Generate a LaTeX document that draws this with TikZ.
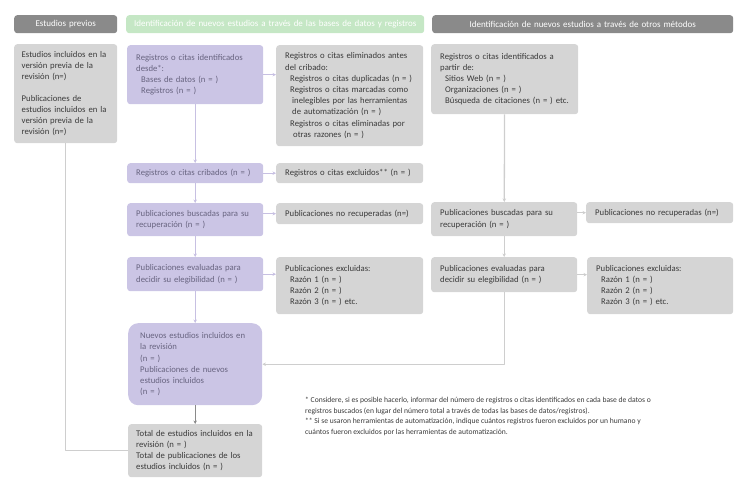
\documentclass[tikz,border=0pt]{standalone}
\usepackage{fontspec}
\setmainfont{Carlito}
\usetikzlibrary{arrows.meta}
\definecolor{hdark}{RGB}{138,138,138}
\definecolor{hgreen}{RGB}{197,231,197}
\definecolor{pfill}{RGB}{203,197,229}
\definecolor{gfill}{RGB}{213,213,213}
\definecolor{ptext}{RGB}{104,100,128}
\definecolor{gtext}{RGB}{58,58,58}
\definecolor{pline}{RGB}{199,192,226}
\definecolor{gline}{RGB}{206,206,206}
\begin{document}
\begin{tikzpicture}[x=1pt,y=-1pt,>={Stealth[length=3.5pt,width=3.5pt]},line join=round,
		font=\fontsize{8.7}{11.2}\selectfont,
		every node/.style={anchor=north west,inner xsep=9pt,inner ysep=0pt,rounded corners=3pt,align=left},
		wh/.style 2 args={text width=#1,minimum height=#2},
		head/.style={fill=#1,text=white,align=center,inner xsep=0pt,font=\fontsize{9}{11}\selectfont},
		pbox/.style={fill=pfill,text=ptext},
		gbox/.style={fill=gfill,text=gtext},
		parrow/.style={->,pline,line width=1.3pt},
		garrow/.style={->,gline,line width=1.3pt}]
	\useasboundingbox (0,0) rectangle (748,486);
	\node[head=hdark,wh={103pt}{18pt}] (hprev) at (14,15) {Estudios previos};
	\node[head=hgreen,wh={298pt}{18pt}] (hdb) at (126,15) {Identificación de nuevos estudios a través de las bases de datos y registros};
	\node[head=hdark,wh={301pt}{18pt}] (hother) at (432,15) {Identificación de nuevos estudios a través de otros métodos};
	\node[gbox,inner xsep=7.5pt,wh={88pt}{99pt}] (prev) at (14,44) {Estudios incluidos en la\\ versión previa de la\\ revisión (n=)\\[10pt] Publicaciones de\\ estudios incluidos en la\\ versión previa de la\\ revisión (n=)};
	\node[pbox,wh={118pt}{59pt}] (ident) at (127,45) {Registros o citas identificados\\ desde*:\\ \hspace*{5pt}Bases de datos (n = )\\ \hspace*{5pt}Registros (n = )};
	\node[gbox,wh={129pt}{101pt}] (removed) at (276,45) {Registros o citas eliminados antes\\ del cribado:\\ \hspace*{5pt}Registros o citas duplicadas (n = )\\ \hspace*{5pt}Registros o citas marcadas como\\ \hspace*{7pt}inelegibles por las herramientas\\ \hspace*{7pt}de automatización (n = )\\ \hspace*{5pt}Registros o citas eliminadas por\\ \hspace*{8pt}otras razones (n = )};
	\node[gbox,wh={129pt}{70pt}] (other) at (431,44) {Registros o citas identificados a\\ partir de:\\ \hspace*{5pt}Sitios Web (n = )\\ \hspace*{5pt}Organizaciones (n = )\\ \hspace*{5pt}Búsqueda de citaciones (n = ) etc.};
	\node[pbox,wh={118pt}{20pt}] (cribados) at (127,163) {Registros o citas cribados (n = )};
	\node[gbox,wh={129pt}{20pt}] (excl) at (276,163) {Registros o citas excluidos** (n = )};
	\node[pbox,wh={118pt}{33pt}] (buscadas) at (127,203) {Publicaciones buscadas para su\\ recuperación (n = )};
	\node[gbox,wh={129pt}{21pt}] (norec) at (276,203) {Publicaciones no recuperadas (n=)};
	\node[gbox,wh={128pt}{34pt}] (obuscadas) at (431,202) {Publicaciones buscadas para su\\ recuperación (n = )};
	\node[gbox,wh={129pt}{21pt}] (onorec) at (586,202) {Publicaciones no recuperadas (n=)};
	\node[pbox,wh={118pt}{34pt}] (evaluadas) at (127,257) {Publicaciones evaluadas para\\ decidir su elegibilidad (n = )};
	\node[gbox,wh={129pt}{57pt}] (exclpub) at (276,257) {Publicaciones excluidas:\\ \hspace*{5pt}Razón 1 (n = )\\ \hspace*{5pt}Razón 2 (n = )\\ \hspace*{5pt}Razón 3 (n = ) etc.};
	\node[gbox,wh={128pt}{35pt}] (oevaluadas) at (431,257) {Publicaciones evaluadas para\\ decidir su elegibilidad (n = )};
	\node[gbox,wh={128pt}{57pt}] (oexclpub) at (587,257) {Publicaciones excluidas:\\ \hspace*{5pt}Razón 1 (n = )\\ \hspace*{5pt}Razón 2 (n = )\\ \hspace*{5pt}Razón 3 (n = ) etc.};
	\node[pbox,rounded corners=10pt,inner xsep=12pt,wh={110pt}{82pt}] (nuevos) at (128,323) {Nuevos estudios incluidos en\\ la revisión\\ (n = )\\ Publicaciones de nuevos\\ estudios incluidos\\ (n = )};
	\node[gbox,inner xsep=8pt,wh={118pt}{53pt}] (total) at (128,424) {Total de estudios incluidos en la\\ revisión (n = )\\ Total de publicaciones de los\\ estudios incluidos (n = )};
	\node[inner xsep=0pt,text=gtext,font=\fontsize{7.6}{10.7}\selectfont] (nota) at (305,397) {* Considere, si es posible hacerlo, informar del número de registros o citas identificados en cada base de datos o\\ registros buscados (en lugar del número total a través de todas las bases de datos/registros).\\ ** Si se usaron herramientas de automatización, indique cuántos registros fueron excluidos por un humano y\\ cuántos fueron excluidos por las herramientas de automatización.};
	\foreach \a/\b in {ident/cribados,cribados/buscadas,buscadas/evaluadas,evaluadas/nuevos}
	\draw[parrow] (\a) -- (\b);
	\foreach \a/\b in {ident/removed,cribados/excl,evaluadas/exclpub}
	\draw[parrow] (\a.east) -- (\a.east -| \b.west);
	\draw[parrow] (buscadas.east |- norec.west) -- (norec.west);
	\foreach \a/\b in {other/obuscadas,obuscadas/oevaluadas}
	\draw[garrow] (\a) -- (\b);
	\draw[garrow] (obuscadas.east |- onorec.west) -- (onorec.west);
	\draw[garrow] (oevaluadas.east) -- (oevaluadas.east -| oexclpub.west);
	\draw[garrow] (oevaluadas.south) |- (nuevos.east);
	\draw[gline,line width=1.3pt] (prev.south) |- (total.west);
	\draw[->,hdark,line width=1.3pt] (nuevos) -- (total);
\end{tikzpicture}
\end{document}
